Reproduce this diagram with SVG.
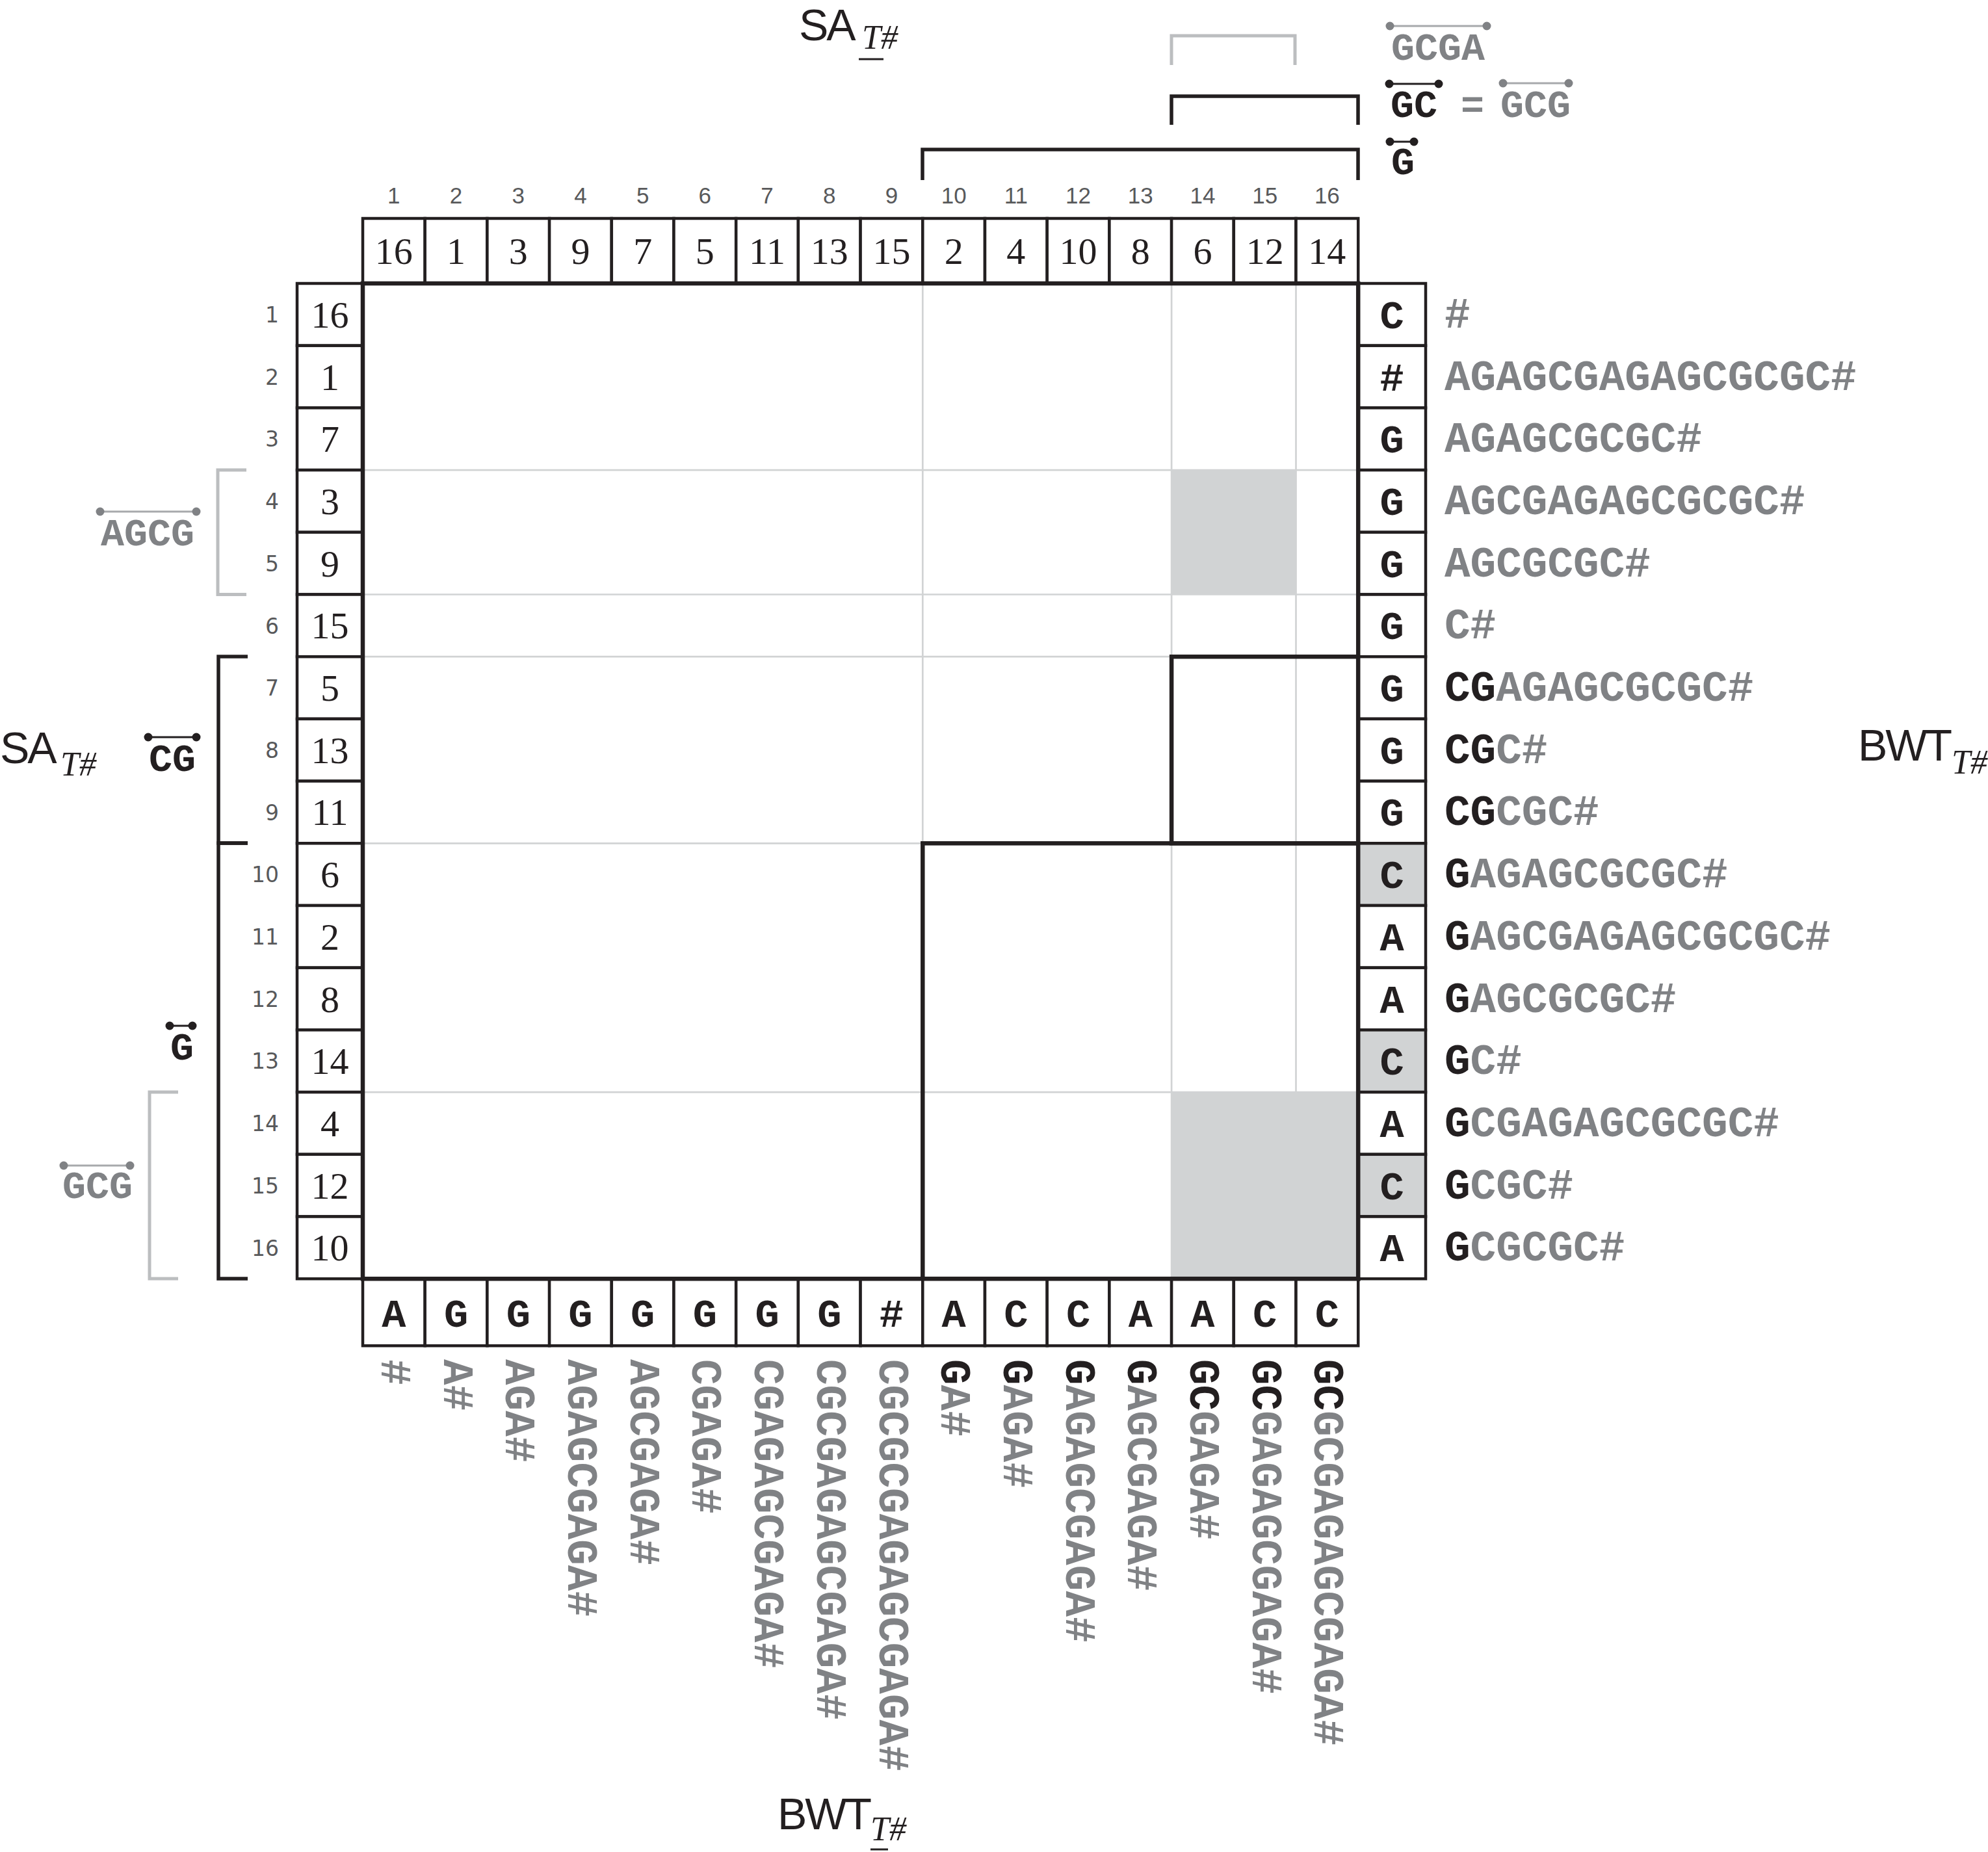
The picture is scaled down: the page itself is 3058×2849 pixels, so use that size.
<svg xmlns="http://www.w3.org/2000/svg" width="3058" height="2849" viewBox="0 0 3058 2849">
<style>
.bg{fill:#fff}
.box{fill:#fff;stroke:#231f20;stroke-width:4.5}
.sbox{fill:#d1d3d4;stroke:#231f20;stroke-width:4.5}
.shade{fill:#d1d3d4}
.grid{stroke:#d1d3d4;stroke-width:2.7;fill:none}
.thick{fill:none;stroke:#231f20;stroke-width:6.5}
.gbr{fill:none;stroke:#bcbec0;stroke-width:5}
.bbr{fill:none;stroke:#231f20;stroke-width:5.5}
.num{font-family:"Liberation Serif",serif;font-size:58px;fill:#231f20;text-anchor:middle}
.tidx{font-family:"Liberation Sans",sans-serif;font-size:35px;fill:#58595b;text-anchor:middle}
.lidx{font-family:"DejaVu Sans",sans-serif;font-size:33px;fill:#58595b;text-anchor:end}
.mono{font-family:"Liberation Mono","Courier New",monospace;font-weight:bold}
.bw{font-size:62px;fill:#231f20;text-anchor:middle}
.str{font-size:66px;fill:#808285}
.lab{font-size:60px;text-anchor:middle}
.g{fill:#808285}
.k{fill:#231f20}
.title{font-family:"Liberation Sans",sans-serif;font-size:68px;fill:#231f20;letter-spacing:-3px}
.sub{font-family:"Liberation Serif",serif;font-style:italic;font-size:52px;fill:#231f20}
.gbar{stroke:#a7a9ac;stroke-width:3}
.kbar{stroke:#231f20;stroke-width:3}
.gdot{fill:#808285}
.kdot{fill:#231f20}
</style>
<rect class="bg" x="0" y="0" width="3058" height="2849"/>

<g id="matrix">
<rect x="558" y="436" width="1531.2" height="1531.2" fill="#fff"/>
<g id="grid-lines">
<line class="grid" x1="1419.3" y1="436" x2="1419.3" y2="1967.2"/>
<line class="grid" x1="1802.1" y1="436" x2="1802.1" y2="1967.2"/>
<line class="grid" x1="1993.5" y1="436" x2="1993.5" y2="1967.2"/>
<line class="grid" x1="558" y1="723.1" x2="2089.2" y2="723.1"/>
<line class="grid" x1="558" y1="914.5" x2="2089.2" y2="914.5"/>
<line class="grid" x1="558" y1="1010.2" x2="2089.2" y2="1010.2"/>
<line class="grid" x1="558" y1="1297.3" x2="2089.2" y2="1297.3"/>
<line class="grid" x1="558" y1="1680.1" x2="2089.2" y2="1680.1"/>
</g>
<rect class="shade" x="1802.1" y="723.1" width="191.4" height="191.4"/>
<rect class="shade" x="1802.1" y="1680.1" width="287.1" height="287.1"/>
<rect class="thick" x="1802.1" y="1010.2" width="287.1" height="287.1"/>
<rect class="thick" x="1419.3" y="1297.3" width="669.9" height="669.9"/>
</g>

<g id="header-SA">
<rect class="box" x="558" y="336" width="95.7" height="100"/>
<rect class="box" x="653.7" y="336" width="95.7" height="100"/>
<rect class="box" x="749.4" y="336" width="95.7" height="100"/>
<rect class="box" x="845.1" y="336" width="95.7" height="100"/>
<rect class="box" x="940.8" y="336" width="95.7" height="100"/>
<rect class="box" x="1036.5" y="336" width="95.7" height="100"/>
<rect class="box" x="1132.2" y="336" width="95.7" height="100"/>
<rect class="box" x="1227.9" y="336" width="95.7" height="100"/>
<rect class="box" x="1323.6" y="336" width="95.7" height="100"/>
<rect class="box" x="1419.3" y="336" width="95.7" height="100"/>
<rect class="box" x="1515" y="336" width="95.7" height="100"/>
<rect class="box" x="1610.7" y="336" width="95.7" height="100"/>
<rect class="box" x="1706.4" y="336" width="95.7" height="100"/>
<rect class="box" x="1802.1" y="336" width="95.7" height="100"/>
<rect class="box" x="1897.8" y="336" width="95.7" height="100"/>
<rect class="box" x="1993.5" y="336" width="95.7" height="100"/>
<text class="num" x="605.85" y="406">16</text>
<text class="num" x="701.55" y="406">1</text>
<text class="num" x="797.25" y="406">3</text>
<text class="num" x="892.95" y="406">9</text>
<text class="num" x="988.65" y="406">7</text>
<text class="num" x="1084.35" y="406">5</text>
<text class="num" x="1180.05" y="406">11</text>
<text class="num" x="1275.75" y="406">13</text>
<text class="num" x="1371.45" y="406">15</text>
<text class="num" x="1467.15" y="406">2</text>
<text class="num" x="1562.85" y="406">4</text>
<text class="num" x="1658.55" y="406">10</text>
<text class="num" x="1754.25" y="406">8</text>
<text class="num" x="1849.95" y="406">6</text>
<text class="num" x="1945.65" y="406">12</text>
<text class="num" x="2041.35" y="406">14</text>
</g>

<g id="top-index">
<text class="tidx" x="605.85" y="313">1</text>
<text class="tidx" x="701.55" y="313">2</text>
<text class="tidx" x="797.25" y="313">3</text>
<text class="tidx" x="892.95" y="313">4</text>
<text class="tidx" x="988.65" y="313">5</text>
<text class="tidx" x="1084.35" y="313">6</text>
<text class="tidx" x="1180.05" y="313">7</text>
<text class="tidx" x="1275.75" y="313">8</text>
<text class="tidx" x="1371.45" y="313">9</text>
<text class="tidx" x="1467.15" y="313">10</text>
<text class="tidx" x="1562.85" y="313">11</text>
<text class="tidx" x="1658.55" y="313">12</text>
<text class="tidx" x="1754.25" y="313">13</text>
<text class="tidx" x="1849.95" y="313">14</text>
<text class="tidx" x="1945.65" y="313">15</text>
<text class="tidx" x="2041.35" y="313">16</text>
</g>

<g id="left-SA">
<rect class="box" x="457" y="436" width="101" height="95.7"/>
<rect class="box" x="457" y="531.7" width="101" height="95.7"/>
<rect class="box" x="457" y="627.4" width="101" height="95.7"/>
<rect class="box" x="457" y="723.1" width="101" height="95.7"/>
<rect class="box" x="457" y="818.8" width="101" height="95.7"/>
<rect class="box" x="457" y="914.5" width="101" height="95.7"/>
<rect class="box" x="457" y="1010.2" width="101" height="95.7"/>
<rect class="box" x="457" y="1105.9" width="101" height="95.7"/>
<rect class="box" x="457" y="1201.6" width="101" height="95.7"/>
<rect class="box" x="457" y="1297.3" width="101" height="95.7"/>
<rect class="box" x="457" y="1393" width="101" height="95.7"/>
<rect class="box" x="457" y="1488.7" width="101" height="95.7"/>
<rect class="box" x="457" y="1584.4" width="101" height="95.7"/>
<rect class="box" x="457" y="1680.1" width="101" height="95.7"/>
<rect class="box" x="457" y="1775.8" width="101" height="95.7"/>
<rect class="box" x="457" y="1871.5" width="101" height="95.7"/>
<text class="num" x="507.5" y="504">16</text>
<text class="num" x="507.5" y="599.5">1</text>
<text class="num" x="507.5" y="695.2">7</text>
<text class="num" x="507.5" y="791">3</text>
<text class="num" x="507.5" y="886.6">9</text>
<text class="num" x="507.5" y="982.3">15</text>
<text class="num" x="507.5" y="1078">5</text>
<text class="num" x="507.5" y="1173.7">13</text>
<text class="num" x="507.5" y="1269.4">11</text>
<text class="num" x="507.5" y="1365.1">6</text>
<text class="num" x="507.5" y="1460.8">2</text>
<text class="num" x="507.5" y="1556.5">8</text>
<text class="num" x="507.5" y="1652.2">14</text>
<text class="num" x="507.5" y="1747.9">4</text>
<text class="num" x="507.5" y="1843.6">12</text>
<text class="num" x="507.5" y="1939.3">10</text>
</g>

<g id="left-index">
<text class="lidx" x="429" y="496">1</text>
<text class="lidx" x="429" y="591.7">2</text>
<text class="lidx" x="429" y="687.4">3</text>
<text class="lidx" x="429" y="783.2">4</text>
<text class="lidx" x="429" y="878.8">5</text>
<text class="lidx" x="429" y="974.5">6</text>
<text class="lidx" x="429" y="1070.2">7</text>
<text class="lidx" x="429" y="1165.9">8</text>
<text class="lidx" x="429" y="1261.6">9</text>
<text class="lidx" x="429" y="1357.3">10</text>
<text class="lidx" x="429" y="1453">11</text>
<text class="lidx" x="429" y="1548.7">12</text>
<text class="lidx" x="429" y="1644.4">13</text>
<text class="lidx" x="429" y="1740.1">14</text>
<text class="lidx" x="429" y="1835.8">15</text>
<text class="lidx" x="429" y="1931.5">16</text>
</g>

<g id="right-BWT">
<rect class="box" x="2089.2" y="436" width="103.8" height="95.7"/>
<rect class="box" x="2089.2" y="531.7" width="103.8" height="95.7"/>
<rect class="box" x="2089.2" y="627.4" width="103.8" height="95.7"/>
<rect class="box" x="2089.2" y="723.1" width="103.8" height="95.7"/>
<rect class="box" x="2089.2" y="818.8" width="103.8" height="95.7"/>
<rect class="box" x="2089.2" y="914.5" width="103.8" height="95.7"/>
<rect class="box" x="2089.2" y="1010.2" width="103.8" height="95.7"/>
<rect class="box" x="2089.2" y="1105.9" width="103.8" height="95.7"/>
<rect class="box" x="2089.2" y="1201.6" width="103.8" height="95.7"/>
<rect class="sbox" x="2089.2" y="1297.3" width="103.8" height="95.7"/>
<rect class="box" x="2089.2" y="1393" width="103.8" height="95.7"/>
<rect class="box" x="2089.2" y="1488.7" width="103.8" height="95.7"/>
<rect class="sbox" x="2089.2" y="1584.4" width="103.8" height="95.7"/>
<rect class="box" x="2089.2" y="1680.1" width="103.8" height="95.7"/>
<rect class="sbox" x="2089.2" y="1775.8" width="103.8" height="95.7"/>
<rect class="box" x="2089.2" y="1871.5" width="103.8" height="95.7"/>
<g class="mono bw">
<text x="2141" y="505">C</text>
<text x="2141" y="600.5">#</text>
<text x="2141" y="696.2">G</text>
<text x="2141" y="792">G</text>
<text x="2141" y="887.6">G</text>
<text x="2141" y="983.3">G</text>
<text x="2141" y="1079">G</text>
<text x="2141" y="1174.7">G</text>
<text x="2141" y="1270.4">G</text>
<text x="2141" y="1366.1">C</text>
<text x="2141" y="1461.8">A</text>
<text x="2141" y="1557.5">A</text>
<text x="2141" y="1653.2">C</text>
<text x="2141" y="1748.9">A</text>
<text x="2141" y="1844.6">C</text>
<text x="2141" y="1940.3">A</text>
</g>
</g>

<g id="right-suffixes" class="mono str">
<text x="2222" y="503.8">#</text>
<text x="2222" y="599.5">AGAGCGAGAGCGCGC#</text>
<text x="2222" y="695.2">AGAGCGCGC#</text>
<text x="2222" y="791">AGCGAGAGCGCGC#</text>
<text x="2222" y="886.6">AGCGCGC#</text>
<text x="2222" y="982.3">C#</text>
<text x="2222" y="1078"><tspan class="k">CG</tspan>AGAGCGCGC#</text>
<text x="2222" y="1173.7"><tspan class="k">CG</tspan>C#</text>
<text x="2222" y="1269.4"><tspan class="k">CG</tspan>CGC#</text>
<text x="2222" y="1365.1"><tspan class="k">G</tspan>AGAGCGCGC#</text>
<text x="2222" y="1460.8"><tspan class="k">G</tspan>AGCGAGAGCGCGC#</text>
<text x="2222" y="1556.5"><tspan class="k">G</tspan>AGCGCGC#</text>
<text x="2222" y="1652.2"><tspan class="k">G</tspan>C#</text>
<text x="2222" y="1747.9"><tspan class="k">G</tspan>CGAGAGCGCGC#</text>
<text x="2222" y="1843.6"><tspan class="k">G</tspan>CGC#</text>
<text x="2222" y="1939.3"><tspan class="k">G</tspan>CGCGC#</text>
</g>

<g id="bottom-BWT">
<rect class="box" x="558" y="1967.2" width="95.7" height="103"/>
<rect class="box" x="653.7" y="1967.2" width="95.7" height="103"/>
<rect class="box" x="749.4" y="1967.2" width="95.7" height="103"/>
<rect class="box" x="845.1" y="1967.2" width="95.7" height="103"/>
<rect class="box" x="940.8" y="1967.2" width="95.7" height="103"/>
<rect class="box" x="1036.5" y="1967.2" width="95.7" height="103"/>
<rect class="box" x="1132.2" y="1967.2" width="95.7" height="103"/>
<rect class="box" x="1227.9" y="1967.2" width="95.7" height="103"/>
<rect class="box" x="1323.6" y="1967.2" width="95.7" height="103"/>
<rect class="box" x="1419.3" y="1967.2" width="95.7" height="103"/>
<rect class="box" x="1515" y="1967.2" width="95.7" height="103"/>
<rect class="box" x="1610.7" y="1967.2" width="95.7" height="103"/>
<rect class="box" x="1706.4" y="1967.2" width="95.7" height="103"/>
<rect class="box" x="1802.1" y="1967.2" width="95.7" height="103"/>
<rect class="box" x="1897.8" y="1967.2" width="95.7" height="103"/>
<rect class="box" x="1993.5" y="1967.2" width="95.7" height="103"/>
<g class="mono bw">
<text x="605.85" y="2041">A</text>
<text x="701.55" y="2041">G</text>
<text x="797.25" y="2041">G</text>
<text x="892.95" y="2041">G</text>
<text x="988.65" y="2041">G</text>
<text x="1084.35" y="2041">G</text>
<text x="1180.05" y="2041">G</text>
<text x="1275.75" y="2041">G</text>
<text x="1371.45" y="2041">#</text>
<text x="1467.15" y="2041">A</text>
<text x="1562.85" y="2041">C</text>
<text x="1658.55" y="2041">C</text>
<text x="1754.25" y="2041">A</text>
<text x="1849.95" y="2041">A</text>
<text x="1945.65" y="2041">C</text>
<text x="2041.35" y="2041">C</text>
</g>
</g>

<rect id="matrix-frame" class="thick" x="558" y="436" width="1531.2" height="1531.2"/>

<g id="bottom-suffixes" class="mono str">
<text transform="translate(587,2091) rotate(90)">#</text>
<text transform="translate(682.6,2091) rotate(90)">A#</text>
<text transform="translate(778.3,2091) rotate(90)">AGA#</text>
<text transform="translate(874,2091) rotate(90)">AGAGCGAGA#</text>
<text transform="translate(969.7,2091) rotate(90)">AGCGAGA#</text>
<text transform="translate(1065.4,2091) rotate(90)">CGAGA#</text>
<text transform="translate(1161.1,2091) rotate(90)">CGAGAGCGAGA#</text>
<text transform="translate(1256.8,2091) rotate(90)">CGCGAGAGCGAGA#</text>
<text transform="translate(1352.5,2091) rotate(90)">CGCGCGAGAGCGAGA#</text>
<text transform="translate(1448.2,2091) rotate(90)"><tspan class="k">G</tspan>A#</text>
<text transform="translate(1543.9,2091) rotate(90)"><tspan class="k">G</tspan>AGA#</text>
<text transform="translate(1639.6,2091) rotate(90)"><tspan class="k">G</tspan>AGAGCGAGA#</text>
<text transform="translate(1735.3,2091) rotate(90)"><tspan class="k">G</tspan>AGCGAGA#</text>
<text transform="translate(1831,2091) rotate(90)"><tspan class="k">GC</tspan>GAGA#</text>
<text transform="translate(1926.7,2091) rotate(90)"><tspan class="k">GC</tspan>GAGAGCGAGA#</text>
<text transform="translate(2022.4,2091) rotate(90)"><tspan class="k">GC</tspan>GCGAGAGCGAGA#</text>
</g>

<g id="brackets">
<path class="gbr" d="M1802 100 V55 H1992 V100"/>
<path class="bbr" d="M1802 192 V148 H2089 V192"/>
<path class="bbr" d="M1419 277 V230 H2089 V277"/>
<path class="gbr" d="M379 723 H335 V914.5 H379"/>
<path class="bbr" d="M381 1010 H336 V1297 H381"/>
<path class="bbr" d="M381 1297 H336 V1967 H381"/>
<path class="gbr" d="M274 1680 H230 V1967 H274"/>
</g>

<g id="label-AGCG">
<line class="gbar" x1="154" y1="787" x2="302" y2="787"/>
<circle class="gdot" cx="154" cy="787" r="6.5"/>
<circle class="gdot" cx="302" cy="787" r="6.5"/>
<text class="mono lab g" x="227" y="839">AGCG</text>
</g>
<g id="label-CG">
<line class="kbar" x1="228" y1="1134" x2="302" y2="1134"/>
<circle class="kdot" cx="228" cy="1134" r="6.5"/>
<circle class="kdot" cx="302" cy="1134" r="6.5"/>
<text class="mono lab k" x="265" y="1186">CG</text>
</g>
<g id="label-G-left">
<line class="kbar" x1="261" y1="1578" x2="296" y2="1578"/>
<circle class="kdot" cx="261" cy="1578" r="6.5"/>
<circle class="kdot" cx="296" cy="1578" r="6.5"/>
<text class="mono lab k" x="280" y="1630">G</text>
</g>
<g id="label-GCG-left">
<line class="gbar" x1="98" y1="1793" x2="200" y2="1793"/>
<circle class="gdot" cx="98" cy="1793" r="6.5"/>
<circle class="gdot" cx="200" cy="1793" r="6.5"/>
<text class="mono lab g" x="150" y="1843">GCG</text>
</g>

<g id="label-GCGA">
<line class="gbar" x1="2138" y1="40" x2="2287" y2="40"/>
<circle class="gdot" cx="2138" cy="40" r="6.5"/>
<circle class="gdot" cx="2287" cy="40" r="6.5"/>
<text class="mono lab g" x="2212" y="92">GCGA</text>
</g>
<g id="label-GC">
<line class="kbar" x1="2137" y1="129" x2="2213" y2="129"/>
<circle class="kdot" cx="2137" cy="129" r="6.5"/>
<circle class="kdot" cx="2213" cy="129" r="6.5"/>
<text class="mono lab k" x="2175" y="180">GC</text>
</g>
<text class="mono lab g" x="2265" y="180">=</text>
<g id="label-GCG-top">
<line class="gbar" x1="2312" y1="128" x2="2413" y2="128"/>
<circle class="gdot" cx="2312" cy="128" r="6.5"/>
<circle class="gdot" cx="2413" cy="128" r="6.5"/>
<text class="mono lab g" x="2362" y="180">GCG</text>
</g>
<g id="label-G-top">
<line class="kbar" x1="2138" y1="218" x2="2175" y2="218"/>
<circle class="kdot" cx="2138" cy="218" r="6.5"/>
<circle class="kdot" cx="2175" cy="218" r="6.5"/>
<text class="mono lab k" x="2158" y="268">G</text>
</g>

<g id="title-top">
<text class="title" x="1229" y="62">SA</text>
<text class="sub" x="1326" y="75">T#</text>
<line x1="1321" y1="91" x2="1359" y2="91" stroke="#231f20" stroke-width="3"/>
</g>
<g id="title-left">
<text class="title" x="0" y="1174">SA</text>
<text class="sub" x="93" y="1193">T#</text>
</g>
<g id="title-right">
<text class="title" x="2858" y="1170">BWT</text>
<text class="sub" x="3002" y="1190">T#</text>
</g>
<g id="title-bottom">
<text class="title" x="1196" y="2814">BWT</text>
<text class="sub" x="1339" y="2831">T#</text>
<line x1="1339" y1="2845" x2="1366" y2="2845" stroke="#231f20" stroke-width="3"/>
</g>
</svg>
